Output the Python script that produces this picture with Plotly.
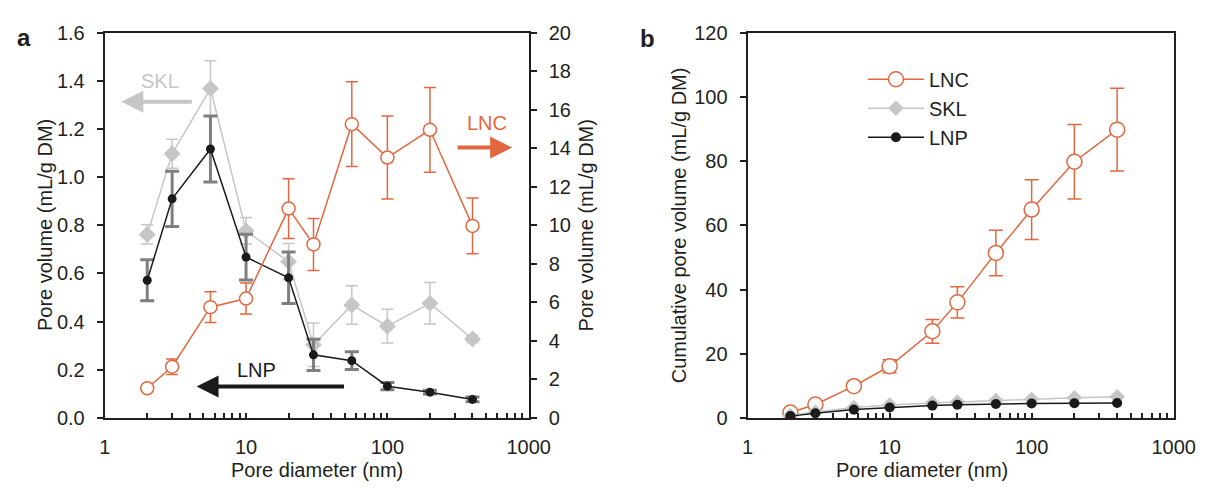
import plotly.graph_objects as go

# ---------------- data ----------------
pore_d = [2, 3, 5.6, 10, 20, 30, 56, 100, 200, 400]

skl = [0.762, 1.097, 1.368, 0.777, 0.649, 0.304, 0.469, 0.381, 0.476, 0.328]
skl_err = [0.04, 0.06, 0.115, 0.055, 0.075, 0.09, 0.08, 0.07, 0.086, 0.015]
lnp = [0.572, 0.91, 1.117, 0.668, 0.582, 0.262, 0.238, 0.132, 0.107, 0.077]
lnp_err = [0.085, 0.115, 0.137, 0.095, 0.107, 0.065, 0.037, 0.015, 0.008, 0.01]
lnc = [1.54, 2.66, 5.75, 6.2, 10.87, 9.01, 15.25, 13.52, 14.96, 9.97]
lnc_err = [0.15, 0.4, 0.8, 0.8, 1.55, 1.35, 2.2, 2.15, 2.2, 1.45]

lnc_cum = [1.7, 4.2, 9.9, 16.1, 27.0, 36.0, 51.4, 64.9, 79.8, 89.8]
lnc_cum_err = [0.3, 0.6, 1.2, 2.0, 3.7, 4.9, 7.1, 9.3, 11.6, 12.9]
skl_cum = [0.76, 1.86, 3.23, 4.0, 4.65, 4.96, 5.43, 5.81, 6.29, 6.62]
skl_cum_err = [0.05, 0.1, 0.2, 0.25, 0.3, 0.35, 0.4, 0.45, 0.5, 0.5]
lnp_cum = [0.57, 1.48, 2.6, 3.27, 3.85, 4.11, 4.35, 4.48, 4.59, 4.66]
lnp_cum_err = [0.05, 0.1, 0.15, 0.2, 0.25, 0.25, 0.25, 0.25, 0.25, 0.25]

x_tickvals = [1, 2, 3, 4, 5, 6, 7, 8, 9, 10, 20, 30, 40, 50, 60, 70, 80, 90,
              100, 200, 300, 400, 500, 600, 700, 800, 900, 1000]
x_ticktext = [str(v) if v in (1, 10, 100, 1000) else "" for v in x_tickvals]

series_names = ["LNC", "SKL", "LNP"]

# ---------------- styles ----------------
W, H = 1223, 492
ORANGE = "#E2673F"
GREY = "#C6C6C6"
DGREY = "#7F7F7F"
BLACK = "#1A1A1A"
AX = "#231F20"
FONT = "Liberation Sans, Arial, sans-serif"
FS = 20


def px(x):
    return x / W


def py(y):
    return 1 - y / H


fig = go.Figure()

# ---- panel a ----
fig.add_trace(go.Scatter(
    x=pore_d, y=skl, mode="lines+markers", xaxis="x", yaxis="y",
    line=dict(color=GREY, width=1.5),
    marker=dict(symbol="diamond", size=13, color=GREY),
    error_y=dict(type="data", array=skl_err, color=GREY, thickness=1.5, width=6),
    showlegend=False))
fig.add_trace(go.Scatter(
    x=pore_d, y=lnp, mode="lines+markers", xaxis="x", yaxis="y",
    line=dict(color=BLACK, width=1.5),
    marker=dict(symbol="circle", size=9, color=BLACK),
    error_y=dict(type="data", array=lnp_err, color=DGREY, thickness=3, width=7),
    showlegend=False))
fig.add_trace(go.Scatter(
    x=pore_d, y=lnc, mode="lines+markers", xaxis="x", yaxis="y2",
    line=dict(color=ORANGE, width=1.5),
    marker=dict(symbol="circle", size=13, color="white",
                line=dict(color=ORANGE, width=1.5)),
    error_y=dict(type="data", array=lnc_err, color=ORANGE, thickness=1.5, width=6),
    showlegend=False))

# ---- panel b ----
fig.add_trace(go.Scatter(
    x=pore_d, y=lnc_cum, mode="lines+markers", xaxis="x2", yaxis="y3",
    name=series_names[0],
    line=dict(color=ORANGE, width=1.5),
    marker=dict(symbol="circle", size=15, color="white",
                line=dict(color=ORANGE, width=1.5)),
    error_y=dict(type="data", array=lnc_cum_err, color=ORANGE, thickness=1.5, width=7)))
fig.add_trace(go.Scatter(
    x=pore_d, y=skl_cum, mode="lines+markers", xaxis="x2", yaxis="y3",
    name=series_names[1],
    line=dict(color=GREY, width=1.5),
    marker=dict(symbol="diamond", size=12, color=GREY),
    error_y=dict(type="data", array=skl_cum_err, color=GREY, thickness=1.5, width=5)))
fig.add_trace(go.Scatter(
    x=pore_d, y=lnp_cum, mode="lines+markers", xaxis="x2", yaxis="y3",
    name=series_names[2],
    line=dict(color=BLACK, width=1.5),
    marker=dict(symbol="circle", size=10, color=BLACK),
    error_y=dict(type="data", array=lnp_cum_err, color=DGREY, thickness=1.5, width=5)))

tickfont = dict(family=FONT, size=FS, color=AX)

xcommon = dict(type="log", range=[0, 3], tickvals=x_tickvals, ticktext=x_ticktext,
               ticks="inside", ticklen=5, tickwidth=1.5, tickcolor=AX,
               ticklabelstandoff=10,
               showline=True, linewidth=2, linecolor=AX, mirror=True,
               showgrid=False, zeroline=False, tickfont=tickfont)
ycommon = dict(ticks="outside", ticklen=6, tickwidth=1.5, tickcolor=AX,
               ticklabelstandoff=8,
               showline=True, linewidth=2, linecolor=AX,
               showgrid=False, zeroline=False, tickfont=tickfont)

yb0, yb1 = py(426), py(22.7)

fig.update_layout(
    width=W, height=H,
    margin=dict(l=0, r=0, t=0, b=0),
    paper_bgcolor="white", plot_bgcolor="white",
    font=dict(family=FONT, size=FS, color=AX),
    xaxis=dict(domain=[px(101), px(535)], anchor="y", **xcommon),
    yaxis=dict(domain=[yb0, yb1], anchor="x", range=[0, 1.6], dtick=0.2,
               tickformat=".1f", **ycommon),
    yaxis2=dict(overlaying="y", side="right", anchor="x", range=[0, 20], dtick=2,
                **ycommon),
    xaxis2=dict(domain=[px(759), px(1195)], anchor="y3", **xcommon),
    yaxis3=dict(domain=[yb0, yb1], anchor="x2", range=[0, 120], dtick=20,
                mirror=True, **ycommon),
    legend=dict(x=px(877), y=py(51), xanchor="left", yanchor="top",
                bgcolor="rgba(0,0,0,0)", font=dict(family=FONT, size=FS, color=AX),
                tracegroupgap=0, itemwidth=56),
)

annotations = [
    # panel letters
    dict(text="<b>a</b>", x=px(18), y=py(28), font=dict(size=24)),
    dict(text="<b>b</b>", x=px(657), y=py(29), font=dict(size=24)),
    # axis titles
    dict(text="Pore diameter (nm)", x=px(318), y=py(481)),
    dict(text="Pore diameter (nm)", x=px(937), y=py(481)),
    dict(text="Pore volume (mL/g DM)", x=px(40), y=py(224), textangle=-90),
    dict(text="Pore volume (mL/g DM)", x=px(594), y=py(224), textangle=-90),
    dict(text="Cumulative pore volume (mL/g DM)", x=px(689), y=py(224), textangle=-90),
    # in-plot labels
    dict(text="SKL", x=px(158), y=py(73), font=dict(color=GREY)),
    dict(text="LNC", x=px(492), y=py(117), font=dict(color=ORANGE)),
    dict(text="LNP", x=px(256), y=py(376), font=dict(color=BLACK)),
]
for a in annotations:
    a.update(xref="paper", yref="paper", showarrow=False,
             xanchor="center", yanchor="middle")
    f = dict(family=FONT, size=FS, color=AX)
    f.update(a.get("font", {}))
    a["font"] = f

arrows = [
    dict(x=px(118), y=py(95), ax=72, ay=0, arrowcolor=GREY),
    dict(x=px(518), y=py(143), ax=-56, ay=0, arrowcolor=ORANGE),
    dict(x=px(195), y=py(393), ax=149, ay=0, arrowcolor=BLACK),
]
for a in arrows:
    a.update(xref="paper", yref="paper", text="", showarrow=True,
             arrowhead=2, arrowsize=1.1, arrowwidth=4)
annotations += arrows
fig.update_layout(annotations=annotations)

fig.write_html(
    "out.html",
    config={"displayModeBar": False},
    post_script="document.body.style.margin='0px';document.body.style.overflow='hidden';",
)
